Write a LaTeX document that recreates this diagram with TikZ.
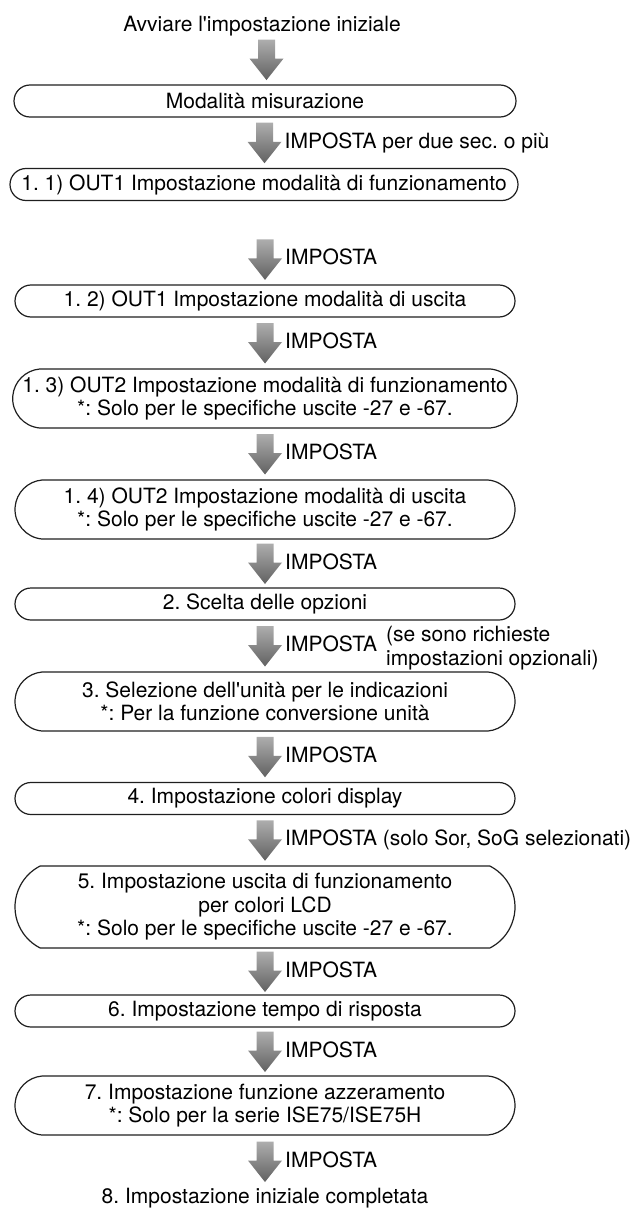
\documentclass[tikz,border=0pt]{standalone}
\usepackage{fontspec}
\setmainfont{TeX Gyre Heros}
\usetikzlibrary{calc,shapes.misc}
\frenchspacing
\begin{document}
\begin{tikzpicture}[x=1pt,y=1pt,
  every node/.style={font=\fontsize{21}{23.5}\selectfont, inner sep=0pt},
  pill/.style={rounded rectangle, draw=black!88, line width=1.2pt,
    minimum width=500pt, minimum height=32pt, align=center},
  pilltwo/.style={pill, minimum height=59pt, rounded rectangle arc length=170},
  pillthree/.style={pill, minimum height=82pt, rounded rectangle arc length=126},
  lbl/.style={anchor=base west},
  pics/garrow/.style={code={
    \shade[top color=black!32, bottom color=black!62]
      (-8.5,20) -- (8.5,20) -- (8.5,1) -- (17,1) -- (0,-20.5) -- (-17,1) -- (-8.5,1) -- cycle;}}
]
\useasboundingbox (0,0) rectangle (643,-1212);

\node[anchor=base] (t) at (262,-32) {Avviare l\textquotesingle impostazione iniziale};
\node[pill, minimum width=502pt] (m) at (265,-101) {Modalità misurazione};
\node[pill, minimum width=508pt] (b11) at (264,-184.5) {1. 1) OUT1 Impostazione modalità di funzionamento};
\node[pill] (b12) at (265,-301) {1. 2) OUT1 Impostazione modalità di uscita};
\node[pilltwo] (b13) at (265,-398.5) {1. 3) OUT2 Impostazione modalità di funzionamento\\{}*: Solo per le specifiche uscite -27 e -67.};
\node[pilltwo] (b14) at (265,-509.5) {1. 4) OUT2 Impostazione modalità di uscita\\{}*: Solo per le specifiche uscite -27 e -67.};
\node[pill] (b2) at (265,-604) {2. Scelta delle opzioni};
\node[pilltwo] (b3) at (265,-701.5) {3. Selezione dell\textquotesingle unità per le indicazioni\\{}*: Per la funzione conversione unità};
\node[pill] (b4) at (265,-798.5) {4. Impostazione colori display};
\node[pillthree] (b5) at (265,-907) {5. Impostazione uscita di funzionamento\\per colori LCD\\{}*: Solo per le specifiche uscite -27 e -67.};
\node[pill] (b6) at (265,-1011) {6. Impostazione tempo di risposta};
\node[pilltwo] (b7) at (265,-1105.5) {7. Impostazione funzione azzeramento\\{}*: Solo per la serie ISE75/ISE75H};
\node[anchor=base] (e) at (265,-1203) {8. Impostazione iniziale completata};

\coordinate (a1) at ($(t.south)!0.5!(m.north)+(3,1)$);
\coordinate (a2) at ($(m.south)!0.5!(b11.north)$);
\coordinate (a3) at ($(b12.north)+(0,25)$);
\coordinate (a4) at ($(b12.south)!0.5!(b13.north)$);
\coordinate (a5) at ($(b13.south)!0.5!(b14.north)$);
\coordinate (a6) at ($(b14.south)!0.5!(b2.north)$);
\coordinate (a7) at ($(b2.south)!0.5!(b3.north)$);
\coordinate (a8) at ($(b3.south)!0.5!(b4.north)$);
\coordinate (a9) at ($(b4.south)!0.5!(b5.north)$);
\coordinate (a10) at ($(b5.south)!0.5!(b6.north)$);
\coordinate (a11) at ($(b6.south)!0.5!(b7.north)$);
\coordinate (a12) at ($(b7.south)!0.5!(e.north)$);

\foreach \a in {a1,a2,a3,a4,a5,a6,a7,a8,a9,a10,a11,a12}{\pic at (\a) {garrow};}

\node[lbl] (l2) at ($(a2)+(20,-5.5)$) {IMPOSTA per due sec. o più};
\node[lbl] (l3) at ($(a3)+(20,-5.5)$) {IMPOSTA};
\node[lbl] (l4) at ($(a4)+(20,-5.5)$) {IMPOSTA};
\node[lbl] (l5) at ($(a5)+(20,-5.5)$) {IMPOSTA};
\node[lbl] (l6) at ($(a6)+(20,-5.5)$) {IMPOSTA};
\node[lbl] (l7) at ($(a7)+(20,-5.5)$) {IMPOSTA};
\node[anchor=west, align=left] (l7b) at ($(a7)+(121,-2)$) {(se sono richieste\\impostazioni opzionali)};
\node[lbl] (l8) at ($(a8)+(20,-5.5)$) {IMPOSTA};
\node[lbl] (l9) at ($(a9)+(20,-5.5)$) {IMPOSTA (solo Sor, SoG selezionati)};
\node[lbl] (l10) at ($(a10)+(20,-5.5)$) {IMPOSTA};
\node[lbl] (l11) at ($(a11)+(20,-5.5)$) {IMPOSTA};
\node[lbl] (l12) at ($(a12)+(20,-5.5)$) {IMPOSTA};
\end{tikzpicture}
\end{document}
